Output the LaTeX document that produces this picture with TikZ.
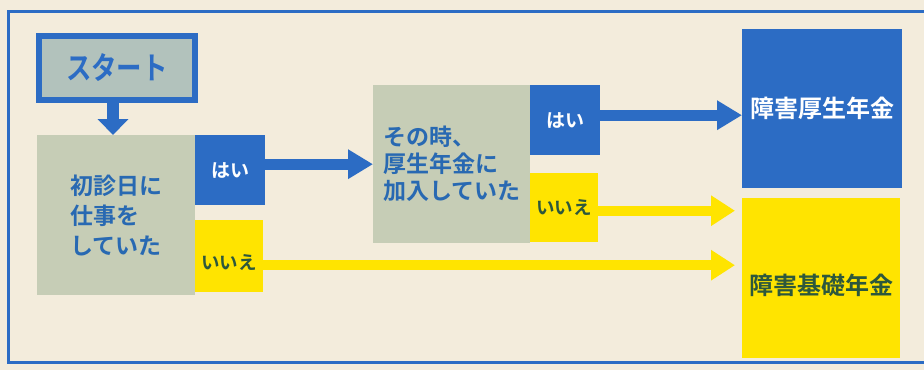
\documentclass[tikz,border=0pt]{standalone}
\usepackage{fontspec}
\newfontfamily\cjk{Noto Sans CJK JP}[BoldFont={Noto Sans CJK JP Bold}]
\usetikzlibrary{arrows.meta}
\definecolor{bg}{RGB}{243,236,220}
\definecolor{bl}{RGB}{44,108,196}
\definecolor{yl}{RGB}{255,228,0}
\definecolor{gg}{RGB}{198,205,182}
\definecolor{sg}{RGB}{178,194,188}
\definecolor{tb}{RGB}{40,105,178}
\definecolor{tg}{RGB}{45,88,60}
\tikzset{
  box/.style={draw=none,inner sep=0pt,anchor=north west,font=\cjk\bfseries},
  graybox/.style={box,fill=gg,text=tb,align=left,font=\cjk\bfseries\fontsize{23}{30}\selectfont},
  yesbox/.style={box,fill=bl,text=white,font=\cjk\bfseries\fontsize{19}{20}\selectfont},
  nobox/.style={box,fill=yl,text=tg,font=\cjk\bfseries\fontsize{18.5}{20}\selectfont},
  barrow/.style={draw=bl,line width=11pt,-{Triangle[length=25pt,width=28pt]}},
  yarrow/.style={draw=yl,line width=10pt,-{Triangle[length=24pt,width=29pt]}},
}
\begin{document}
\begin{tikzpicture}[x=1pt,y=-1pt]
\fill[bg] (0,0) rectangle (924,370);
\useasboundingbox (0,0) rectangle (924,370);
% frame
\draw[bl,line width=3pt] (930,11) -- (8.5,11) -- (8.5,362) -- (930,362);
% start
\node[box,draw=bl,line width=6pt,fill=sg,text=bl,minimum width=156pt,minimum height=64pt,font=\cjk\bfseries\fontsize{31}{32}\selectfont] (start) at (36,33) {\scalebox{0.82}[1]{スタート}};
% question 1
\node[graybox,minimum width=158pt,minimum height=160pt] (q1) at (37,135) {初診日に\\仕事を\\していた};
\node[yesbox,minimum width=70pt,minimum height=70pt] (y1) at (195,135) {はい};
\node[nobox,minimum width=68pt,minimum height=72pt,label={[nobox,anchor=center,yshift=-6pt]center:いいえ}] (n1) at (195,220) {};
% question 2
\node[graybox,minimum width=157pt,minimum height=158pt,font=\cjk\bfseries\fontsize{23}{27}\selectfont] (q2) at (373,85) {その時、\\厚生年金に\\加入していた};
\node[yesbox,minimum width=70pt,minimum height=70pt] (y2) at (530,85) {はい};
\node[nobox,minimum width=68pt,minimum height=69pt] (n2) at (530,173) {いいえ};
% results
\node[box,fill=bl,text=white,minimum width=160pt,minimum height=159pt,font=\cjk\bfseries\fontsize{24}{26}\selectfont] (r1) at (742,29) {障害厚生年金};
\node[box,fill=yl,minimum width=158pt,minimum height=160pt,label={[box,anchor=center,fill=none,text=tg,yshift=-7pt,font=\cjk\bfseries\fontsize{24}{26}\selectfont]center:障害基礎年金}] (r2) at (742,198) {};
% connectors
\draw[draw=bl,line width=12pt,-{Triangle[length=16pt,width=30pt]}] ([xshift=-4pt]start.south) -- ([xshift=-4pt]start.south |- q1.north);
\draw[barrow] ([yshift=6pt]y1.east) -- ([yshift=6pt]y1.east -| q2.west);
\draw[barrow] ([yshift=5pt]y2.east) -- ([yshift=5pt]y2.east -| r1.west);
\draw[yarrow,shorten >=7pt] ([yshift=-3pt]n2.east) -- ([yshift=-3pt]n2.east -| r2.west);
\draw[yarrow,shorten >=7pt] ([yshift=-9pt]n1.east) -- ([yshift=-9pt]n1.east -| r2.west);
\end{tikzpicture}
\end{document}
